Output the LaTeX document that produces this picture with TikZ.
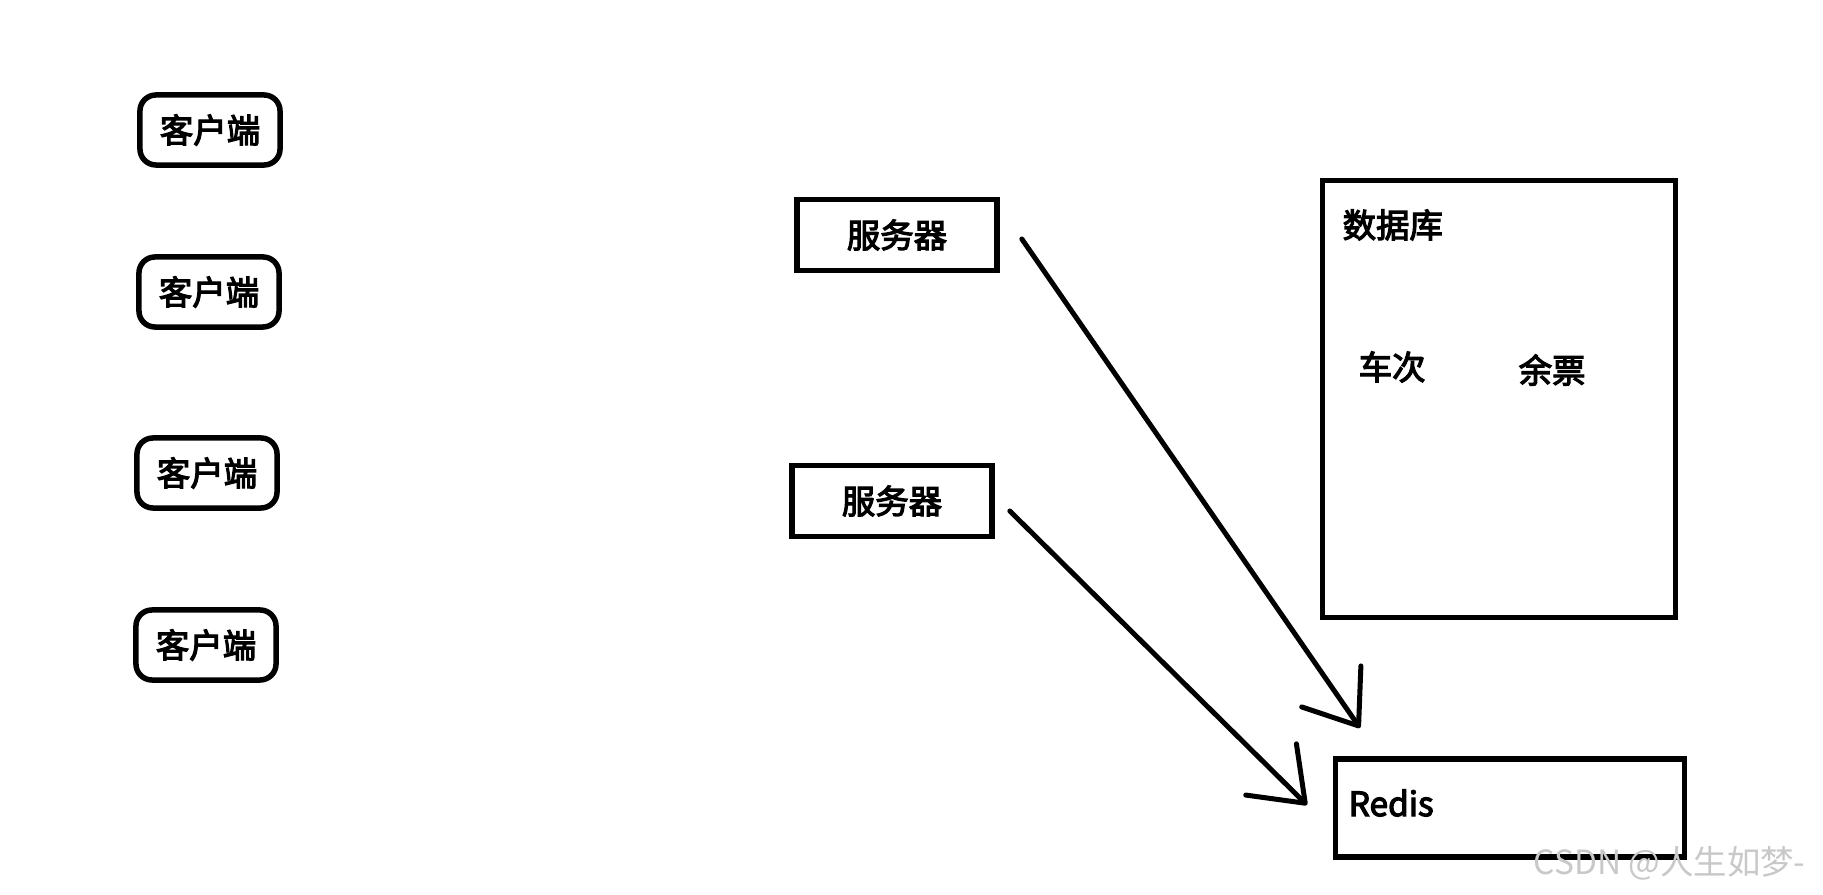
\documentclass[tikz,border=0pt]{standalone}
\usepackage{fontspec}
\setmainfont{Noto Sans CJK SC}
\newfontfamily\cjkmid{Noto Sans CJK SC}[FakeBold=3.5]
\usepackage{tikz}
\usetikzlibrary{arrows.meta, positioning}
\definecolor{inkblack}{RGB}{0,0,0}
\definecolor{markgray}{RGB}{200,200,200}

\begin{document}
\begin{tikzpicture}[
    x=0.01cm, y=-0.01cm,
    client/.style={
        rectangle, rounded corners=0.16cm, draw=inkblack, line width=0.055cm,
        minimum width=1.40cm, minimum height=0.70cm, align=center, font=\cjkmid\fontsize{9.5}{12}\selectfont
    },
    server/.style={
        rectangle, draw=inkblack, line width=0.055cm,
        minimum width=2.00cm, minimum height=0.71cm, align=center, font=\cjkmid\fontsize{9.5}{12}\selectfont
    },
    store/.style={
        rectangle, draw=inkblack, line width=0.055cm, inner sep=0pt
    },
    label/.style={
        inner sep=0pt, anchor=west, font=\cjkmid\fontsize{9.5}{12}\selectfont
    },
    arrow/.style={draw, inkblack, line width=0.05cm, line cap=round,
        -{Straight Barb[length=0.48cm, width=0.72cm, round]}},
    node distance=0.55cm
]
\clip (0,0) rectangle (1823,895);
\fill [white] (0,0) rectangle (1823,895);

% clients
\node [client] (c1) at (210,130) {客户端};
\node [client] (c2) at (209,292) {客户端};
\node [client] (c3) at (207,473) {客户端};
\node [client] (c4) at (206,645) {客户端};

% servers
\node [server] (s1) at (897,235) {服务器};
\node [server] (s2) at (892,501) {服务器};

% database
\node [store, minimum width=3.53cm, minimum height=4.37cm] (db) at (1499,399) {};
\node [label] (dbname) at (1342,225) {数据库};
\node [label] (train) at (1358,367) {车次};
\node [label] (ticket) at (1518,370) {余票};

% redis
\node [store, minimum width=3.49cm, minimum height=0.98cm] (redis) at (1510,808) {};
\node [label] (redisname) at (1348,803) {Redis};

\coordinate (tip1) at (1360,728);
\coordinate (tip2) at (1307,805);

\draw [arrow] ([xshift=0.22cm, yshift=-0.04cm]s1.east) -- (tip1);
\draw [arrow] ([xshift=0.15cm, yshift=-0.10cm]s2.east) -- (tip2);

\node [inner sep=0pt, anchor=west, text=markgray, font=\fontsize{9.5}{11}\selectfont] (mark) at (1533,863) {CSDN @人生如梦-};
\end{tikzpicture}
\end{document}
